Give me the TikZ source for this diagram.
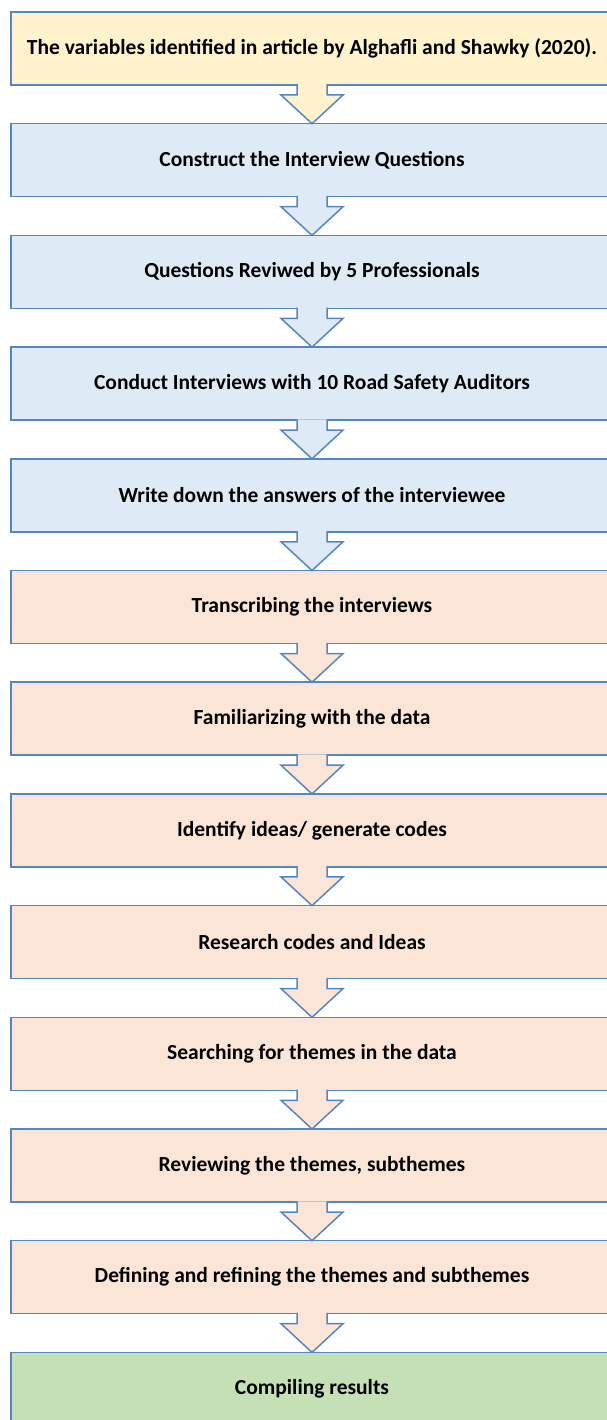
\documentclass[tikz,border=0pt]{standalone}
\usepackage{fontspec}
\setmainfont{Carlito}
\usetikzlibrary{positioning,calc}

\definecolor{edgeblue}{RGB}{84,135,194}
\definecolor{boxyellow}{RGB}{255,242,204}
\definecolor{boxblue}{RGB}{222,235,247}
\definecolor{boxpeach}{RGB}{251,229,214}
\definecolor{boxgreen}{RGB}{197,224,180}

\begin{document}
\begin{tikzpicture}[x=1pt, y=1pt,
    node distance=38.7pt,
    stepbox/.style={draw=edgeblue, line width=1.5pt, minimum width=602pt,
        minimum height=73pt, inner sep=0pt, outer sep=0pt,
        font=\fontsize{21.5}{25}\selectfont\bfseries},
    downarrow/.style={draw=edgeblue, line width=1.5pt, line join=miter}]
    \useasboundingbox (0,0) rectangle (606,-1420);

    \node[stepbox, fill=boxyellow] (s1) at (312,-48.5) {The variables identified in article by Alghafli and Shawky (2020).};
    \node[stepbox, fill=boxblue, below=of s1] (s2) {Construct the Interview Questions};
    \node[stepbox, fill=boxblue, below=of s2] (s3) {Questions Reviwed by 5 Professionals};
    \node[stepbox, fill=boxblue, below=of s3] (s4) {Conduct Interviews with 10 Road Safety Auditors};
    \node[stepbox, fill=boxblue, below=of s4] (s5) {Write down the answers of the interviewee};
    \node[stepbox, fill=boxpeach, below=of s5] (s6) {Transcribing the interviews};
    \node[stepbox, fill=boxpeach, below=of s6] (s7) {Familiarizing with the data};
    \node[stepbox, fill=boxpeach, below=of s7] (s8) {Identify ideas/ generate codes};
    \node[stepbox, fill=boxpeach, below=of s8] (s9) {Research codes and Ideas};
    \node[stepbox, fill=boxpeach, below=of s9] (s10) {Searching for themes in the data};
    \node[stepbox, fill=boxpeach, below=of s10] (s11) {Reviewing the themes, subthemes};
    \node[stepbox, fill=boxpeach, below=of s11] (s12) {Defining and refining the themes and subthemes};
    \node[stepbox, fill=boxgreen, below=of s12] (s13) {Compiling results};

    % block arrows, filled like the box they leave
    \foreach \i/\j/\c in {1/2/boxyellow, 2/3/boxblue, 3/4/boxblue, 4/5/boxblue,
            5/6/boxblue, 6/7/boxpeach, 7/8/boxpeach, 8/9/boxpeach,
            9/10/boxpeach, 10/11/boxpeach, 11/12/boxpeach, 12/13/boxpeach}
        \draw[downarrow, fill=\c] ($(s\i.south)+(-15,0.75)$) -- ++(0,-10.75)
            -- ++(-16,0) -- (s\j.north) -- ($(s\i.south)+(31,-10)$)
            -- ++(-16,0) -- ++(0,10.75);
\end{tikzpicture}
\end{document}
